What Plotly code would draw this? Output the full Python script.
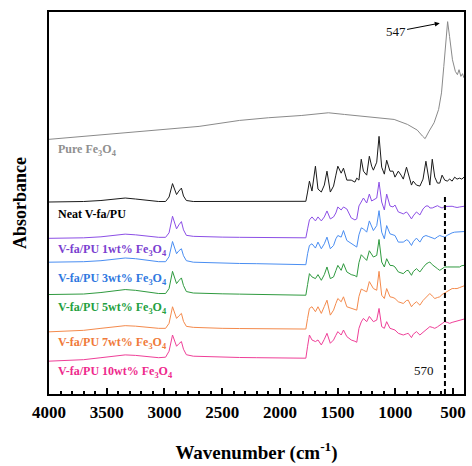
import plotly.graph_objects as go

# FTIR spectra (stacked, arbitrary absorbance units)
wavenumber = [
    4000, 3850, 3700, 3550, 3450, 3340, 3250, 3150, 3050, 2990, 2960, 2930, 2910,
    2895, 2875, 2853, 2835, 2810, 2750, 2650, 2500, 2350, 2200, 2050, 1900, 1790,
    1775, 1760, 1744, 1722, 1692, 1670, 1641, 1615, 1592, 1563, 1535, 1515, 1498,
    1469, 1449, 1420, 1382, 1350, 1334, 1315, 1295, 1276, 1248, 1225, 1205, 1190,
    1161, 1141, 1118, 1095, 1075, 1046, 1020, 1003, 974, 950, 931, 903, 888, 860,
    845, 817, 787, 760, 735, 715, 701, 680, 658, 635, 615, 595, 572, 550, 529, 508,
    486, 465, 443, 424, 405,
]

neat = [
    1.93, 1.93, 1.935, 1.945, 1.96, 1.97, 1.96, 1.945, 1.935, 1.935, 1.98, 2.115, 2.05,
    2.005, 2.04, 2.07, 1.99, 1.945, 1.935, 1.935, 1.935, 1.935, 1.935, 1.935, 1.935, 1.937,
    1.937, 2.03, 2.14, 2.04, 2.29, 2.06, 2.03, 2.10, 2.24, 2.03, 2.09, 2.20, 2.29,
    2.22, 2.27, 2.15, 2.15, 2.13, 2.17, 2.15, 2.36, 2.24, 2.20, 2.39, 2.29, 2.25,
    2.33, 2.59, 2.28, 2.21, 2.35, 2.24, 2.24, 2.18, 2.24, 2.20, 2.16, 2.28, 2.21, 2.10,
    2.14, 2.10, 2.09, 2.16, 2.34, 2.18, 2.10, 2.36, 2.18, 2.12, 2.12, 2.20, 2.15, 2.14,
    2.16, 2.14, 2.18, 2.16, 2.17, 2.16, 2.18,
]

wt1 = [
    1.565, 1.565, 1.57, 1.58, 1.595, 1.607, 1.60, 1.585, 1.575, 1.575, 1.62, 1.787, 1.71,
    1.66, 1.70, 1.733, 1.65, 1.595, 1.585, 1.58, 1.577, 1.575, 1.572, 1.57, 1.568, 1.567,
    1.57, 1.66, 1.75, 1.78, 1.74, 1.78, 1.74, 1.78, 1.84, 1.76, 1.78, 1.82, 1.88,
    1.85, 1.88, 1.86, 1.77, 1.75, 1.76, 1.89, 1.93, 1.97, 1.92, 2.01, 1.94, 1.95,
    1.97, 2.13, 1.93, 1.85, 2.01, 1.89, 1.88, 1.90, 1.83, 1.82, 1.81, 1.83, 1.81, 1.76,
    1.79, 1.83, 1.80, 1.86, 1.89, 1.89, 1.87, 1.87, 1.88, 1.893, 1.88, 1.87, 1.885, 1.887,
    1.89, 1.887, 1.88, 1.875, 1.88, 1.885, 1.887,
]

wt3 = [
    1.325, 1.325, 1.33, 1.34, 1.355, 1.367, 1.36, 1.345, 1.33, 1.33, 1.38, 1.533, 1.46,
    1.41, 1.44, 1.46, 1.39, 1.34, 1.325, 1.32, 1.315, 1.312, 1.31, 1.307, 1.304, 1.30,
    1.30, 1.41, 1.493, 1.51, 1.467, 1.527, 1.46, 1.51, 1.577, 1.46, 1.493, 1.56, 1.593,
    1.577, 1.643, 1.543, 1.51, 1.49, 1.477, 1.60, 1.67, 1.66, 1.627, 1.74, 1.68, 1.643,
    1.693, 1.843, 1.627, 1.56, 1.693, 1.61, 1.60, 1.593, 1.527, 1.53, 1.527, 1.55, 1.543, 1.493,
    1.53, 1.567, 1.527, 1.58, 1.593, 1.585, 1.577, 1.57, 1.56, 1.58, 1.593, 1.585, 1.577, 1.595,
    1.61, 1.62, 1.627, 1.627, 1.627, 1.63, 1.633,
]

wt5 = [
    1.00, 1.00, 1.005, 1.02, 1.035, 1.05, 1.042, 1.025, 1.01, 1.01, 1.06, 1.233, 1.16,
    1.11, 1.14, 1.167, 1.09, 1.03, 1.015, 1.01, 1.007, 1.004, 1.00, 0.998, 0.995, 0.993,
    0.993, 1.10, 1.21, 1.177, 1.16, 1.20, 1.143, 1.20, 1.277, 1.16, 1.177, 1.24, 1.293,
    1.243, 1.31, 1.227, 1.20, 1.19, 1.177, 1.32, 1.40, 1.377, 1.343, 1.44, 1.40, 1.377,
    1.393, 1.553, 1.327, 1.277, 1.36, 1.293, 1.29, 1.277, 1.227, 1.22, 1.21, 1.24, 1.243, 1.193,
    1.23, 1.26, 1.227, 1.27, 1.305, 1.32, 1.327, 1.30, 1.277, 1.26, 1.243, 1.26, 1.277, 1.277,
    1.277, 1.277, 1.277, 1.28, 1.277, 1.29, 1.293,
]

wt7 = [
    0.625, 0.63, 0.64, 0.66, 0.675, 0.687, 0.682, 0.67, 0.66, 0.66, 0.71, 0.877, 0.81,
    0.76, 0.785, 0.81, 0.73, 0.68, 0.67, 0.665, 0.66, 0.658, 0.656, 0.655, 0.654, 0.653,
    0.653, 0.76, 0.86, 0.877, 0.827, 0.877, 0.81, 0.88, 0.943, 0.793, 0.843, 0.91, 0.96,
    0.927, 0.977, 0.877, 0.86, 0.85, 0.843, 0.98, 1.055, 1.043, 1.027, 1.13, 1.08, 1.06,
    1.043, 1.233, 0.993, 0.96, 1.06, 0.977, 0.97, 0.96, 0.927, 0.92, 0.91, 0.94, 0.943, 0.877,
    0.90, 0.927, 0.893, 0.94, 0.97, 1.00, 1.01, 0.985, 0.96, 0.97, 0.977, 1.00, 1.015, 1.027,
    1.045, 1.06, 1.06, 1.06, 1.07, 1.08, 1.087,
]

wt10 = [
    0.33, 0.335, 0.345, 0.365, 0.38, 0.393, 0.388, 0.375, 0.365, 0.37, 0.43, 0.593, 0.53,
    0.48, 0.505, 0.527, 0.45, 0.395, 0.38, 0.375, 0.37, 0.367, 0.365, 0.362, 0.36, 0.36,
    0.36, 0.48, 0.593, 0.543, 0.527, 0.543, 0.493, 0.55, 0.61, 0.51, 0.543, 0.59, 0.627,
    0.593, 0.643, 0.577, 0.543, 0.53, 0.52, 0.66, 0.725, 0.76, 0.727, 0.78, 0.75, 0.727,
    0.743, 0.86, 0.677, 0.66, 0.727, 0.66, 0.65, 0.643, 0.61, 0.60, 0.593, 0.605, 0.61, 0.567,
    0.60, 0.627, 0.593, 0.62, 0.643, 0.665, 0.677, 0.67, 0.66, 0.675, 0.693, 0.71, 0.727, 0.72,
    0.71, 0.72, 0.727, 0.735, 0.743, 0.75, 0.753,
]

fe3o4_wavenumber = [
    4000, 3560, 3130, 2700, 2350, 2100, 1810, 1580, 1440, 1240, 1150, 1010, 895, 810,
    765, 742, 707, 664, 625, 600, 580, 560, 547, 530, 505, 480, 462, 448, 432, 418, 405,
]
fe3o4 = [
    2.56, 2.605, 2.65, 2.69, 2.75, 2.777, 2.80, 2.827, 2.81, 2.787, 2.777, 2.76, 2.71, 2.653,
    2.593, 2.567, 2.643, 2.727, 2.86, 3.027, 3.293, 3.627, 3.743, 3.593, 3.36, 3.243, 3.21,
    3.26, 3.193, 3.22, 3.177,
]

fe3o4_peak = 547      # Fe–O stretching of magnetite
fe_o_band = 570       # Fe–O band in the composites

series_names = [
    "Pure Fe<sub>3</sub>O<sub>4</sub>",
    "Neat V-fa/PU",
    "V-fa/PU 1wt% Fe<sub>3</sub>O<sub>4</sub>",
    "V-fa/PU 3wt% Fe<sub>3</sub>O<sub>4</sub>",
    "V-fa/PU 5wt% Fe<sub>3</sub>O<sub>4</sub>",
    "V-fa/PU 7wt% Fe<sub>3</sub>O<sub>4</sub>",
    "V-fa/PU 10wt% Fe<sub>3</sub>O<sub>4</sub>",
]

SERIF = "Liberation Serif"
line_colors = ["#8a8a8a", "#1a1a1a", "#8c4fe6", "#4a8ef2", "#2f9a3f", "#f48a4c", "#ef3f98"]
text_colors = ["#8f8f8f", "#000000", "#7a3fd0", "#2f78e0", "#23a040", "#f07a3a", "#ee2a8c"]
label_levels = [2.45, 1.81, 1.45, 1.16, 0.86, 0.517, 0.217]

curves = [
    (fe3o4_wavenumber, fe3o4),
    (wavenumber, neat),
    (wavenumber, wt1),
    (wavenumber, wt3),
    (wavenumber, wt5),
    (wavenumber, wt7),
    (wavenumber, wt10),
]

fig = go.Figure()
for (xs, ys), name, color in zip(curves, series_names, line_colors):
    fig.add_trace(go.Scatter(
        x=xs, y=ys, mode="lines", name=name,
        line=dict(color=color, width=1), showlegend=False,
    ))

# curve labels
for name, color, level in zip(series_names, text_colors, label_levels):
    fig.add_annotation(
        x=4000, y=level, xref="x", yref="y", text=f"<b>{name}</b>",
        showarrow=False, xanchor="left", yanchor="middle", xshift=7,
        font=dict(family=SERIF, size=12, color=color),
    )

# peak marker for magnetite
peak_level = fe3o4[fe3o4_wavenumber.index(fe3o4_peak)]
fig.add_annotation(
    x=fe3o4_peak, y=peak_level, xref="x", yref="y", text=str(fe3o4_peak),
    showarrow=True, arrowhead=2, arrowsize=1, arrowwidth=1, arrowcolor="#000",
    ax=-52, ay=10, standoff=8,
    font=dict(family=SERIF, size=13, color="#111"),
)

# dashed reference line at the Fe–O band
fig.add_shape(
    type="line", xref="x", yref="y", x0=fe_o_band, x1=fe_o_band, y0=0, y1=1.99,
    line=dict(color="#000", width=2, dash="5px,3px"),
)
fig.add_annotation(
    x=fe_o_band, y=0.233, xref="x", yref="y", text=str(fe_o_band),
    showarrow=False, xanchor="right", yanchor="middle", xshift=-9,
    font=dict(family=SERIF, size=13, color="#111"),
)

# y-axis title
fig.add_annotation(
    x=0, y=0.5, xref="paper", yref="paper", text="<b>Absorbance</b>",
    textangle=-90, showarrow=False, xanchor="center", yanchor="middle", xshift=-29,
    font=dict(family=SERIF, size=18, color="#000"),
)

fig.update_xaxes(
    range=[4000, 405], tick0=500, dtick=500,
    ticks="inside", ticklen=6, tickwidth=2, tickcolor="#000",
    minor=dict(ticks="inside", ticklen=3, tickwidth=1.5, dtick=100, tick0=500, tickcolor="#000"),
    showline=True, linewidth=2, linecolor="#000", mirror=True,
    showgrid=False, zeroline=False,
    tickfont=dict(family=SERIF, size=17, color="#000", weight="bold"),
    ticklabelstandoff=2,
    title=dict(text="<b>Wavenumber (cm<sup>-1</sup>)</b>",
               font=dict(family=SERIF, size=19, color="#000"), standoff=24),
)
fig.update_yaxes(
    range=[0, 3.84], showticklabels=False, ticks="",
    showline=True, linewidth=2, linecolor="#000", mirror=True,
    showgrid=False, zeroline=False,
)

fig.update_layout(
    width=472, height=466,
    margin=dict(l=49, r=6, t=12, b=70),
    paper_bgcolor="white", plot_bgcolor="white",
    showlegend=False,
)

fig.write_html("out.html")
